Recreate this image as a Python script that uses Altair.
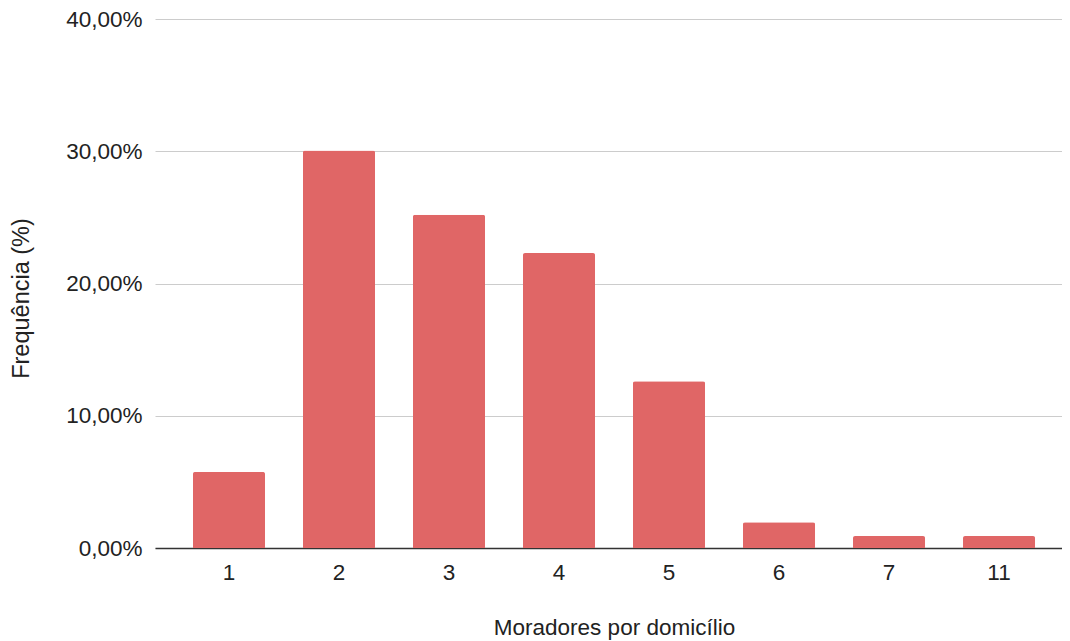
import altair as alt
import pandas as pd

moradores = ["1", "2", "3", "4", "5", "6", "7", "11"]
frequencia = [5.75, 30.05, 25.2, 22.3, 12.6, 1.95, 0.9, 0.9]

df = pd.DataFrame({"Moradores": moradores, "Frequencia": frequencia})

FONT = "Liberation Sans"
FS = 22.5

chart = alt.Chart(df).mark_bar(
    color="#E06666", cornerRadiusTopLeft=2, cornerRadiusTopRight=2
).encode(
    x=alt.X("Moradores:N", sort=moradores,
            title="Moradores por domicílio",
            scale=alt.Scale(paddingInner=0.345, paddingOuter=0.295, align=0.585),
            axis=alt.Axis(labelAngle=0, ticks=False, domainColor="#333333",
                          domainWidth=1.5, labelPadding=13,
                          titleX=459, titleY=79, titleBaseline="middle",
                          titleAlign="center",
                          labelFontSize=FS, titleFontSize=FS, labelFont=FONT,
                          titleFont=FONT, labelColor="#222222",
                          titleColor="#222222", titleFontWeight="normal",
                          grid=False)),
    y=alt.Y("Frequencia:Q", title="Frequência (%)",
            scale=alt.Scale(domain=[0, 40], nice=False),
            axis=alt.Axis(values=[0, 10, 20, 30, 40], domain=False, ticks=False,
                          labelExpr="replace(format(datum.value, '.2f'), '.', ',') + '%'",
                          labelPadding=13,
                          titleX=-134, titleY=279, titleAngle=270,
                          titleBaseline="middle", titleAlign="center",
                          labelFontSize=FS, titleFontSize=23.5, labelFont=FONT,
                          titleFont=FONT, labelColor="#222222",
                          titleColor="#222222", titleFontWeight="normal",
                          gridColor="#cccccc", gridWidth=1)),
).properties(
    width=907, height=529,
    autosize=alt.AutoSizeParams(type="none"),
    padding={"left": 147, "top": 11, "right": 0, "bottom": 92},
).configure_view(stroke=None)

chart.save("out.html", embed_options={"renderer": "svg", "actions": False})
